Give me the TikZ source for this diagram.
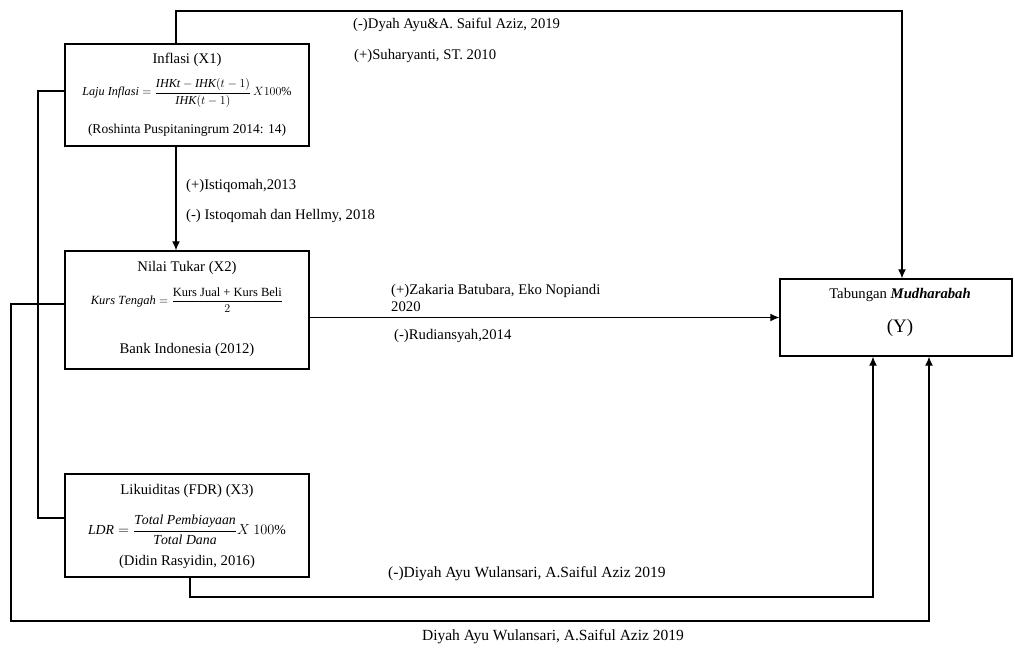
\documentclass[tikz,border=0pt]{standalone}
\usepackage{amsmath}
\usepackage{fontspec}
\setmainfont{Liberation Serif}
\usetikzlibrary{arrows.meta,calc}
\begin{document}
\begin{tikzpicture}[x=1pt,y=-1pt,
  every node/.style={font=\fontsize{14.7}{17}\selectfont, inner sep=0pt},
  box/.style={draw, line width=1.4pt, rectangle},
  line/.style={line width=1.2pt},
  arr/.style={line width=1.2pt, -{Latex[length=9pt,width=8pt]}},
  lab/.style={anchor=west}
]
\useasboundingbox (0,0) rectangle (1015,649);
% boxes
\node[box, minimum width=244pt, minimum height=102pt] (X1) at (187,95) {};
\node[box, minimum width=244pt, minimum height=118pt] (X2) at (187,310) {};
\node[box, minimum width=244pt, minimum height=103pt] (X3) at (187,525.5) {};
\node[box, minimum width=232pt, minimum height=77pt] (Y) at (896,317.5) {};
% box texts
\node (X1a) at (187,60) {Inflasi (X1)};
\node[font=\fontsize{12.2}{13}\selectfont] (X1b) at (187,93) {$\mathit{Laju\ Inflasi} = \dfrac{\mathit{IHKt}-\mathit{IHK}(t-1)}{\mathit{IHK}(t-1)}\,X100\%$};
\node[font=\fontsize{13.5}{16}\selectfont] (X1c) at (187,130) {(Roshinta Puspitaningrum 2014: 14)};
\node (X2a) at (187,268) {Nilai Tukar (X2)};
\node[font=\fontsize{12.5}{13}\selectfont] (X2b) at (187,300) {$\mathit{Kurs\ Tengah} = \dfrac{\text{Kurs Jual + Kurs Beli}}{2}$};
\node (X2c) at (187,350) {Bank Indonesia (2012)};
\node (X3a) at (187,491) {Likuiditas (FDR) (X3)};
\node[font=\fontsize{13.8}{15}\selectfont] (X3b) at (187,530) {$\mathit{LDR} = \dfrac{\mathit{Total\ Pembiayaan}}{\mathit{Total\ Dana}}X\ 100\%$};
\node (X3c) at (187,562) {(Didin Rasyidin, 2016)};
\node (Ya) at (900,295) {Tabungan \textit{\textbf{Mudharabah}}};
\node[font=\fontsize{19}{21}\selectfont] (Yb) at (900,328) {(Y)};
% coordinates
\coordinate (t1) at (176,11);
\coordinate (t2) at (902,11);
\coordinate (b1) at (38,91);
\coordinate (b2) at (38,518);
\coordinate (o1) at (11,304);
\coordinate (o2) at (11,621);
\coordinate (o3) at (929,621);
\coordinate (l1) at (190,597);
\coordinate (l2) at (873,597);
% connectors
\draw[arr] (X1.north -| t1) -- (t1) -- (t2) -- (Y.north -| t2);
\draw[arr] (X1.south -| t1) -- (X2.north -| t1);
\draw[arr] (X2.east |- Y.west) -- (Y.west);
\draw[line] (X1.west |- b1) -- (b1) -- (b2) -- (X3.west |- b2);
\draw[arr] (X2.west |- o1) -- (o1) -- (o2) -- (o3) -- (Y.south -| o3);
\draw[arr] (X3.south -| l1) -- (l1) -- (l2) -- (Y.south -| l2);
% labels
\node[lab] (L1) at (353,25) {(-)Dyah Ayu\&A. Saiful Aziz, 2019};
\node[lab] (L2) at (354,56) {(+)Suharyanti, ST. 2010};
\node[lab] (L3) at (186,186) {(+)Istiqomah,2013};
\node[lab] (L4) at (186,216) {(-) Istoqomah dan Hellmy, 2018};
\node[lab, align=left, font=\fontsize{14.7}{17}\selectfont] (L5) at (391,298) {(+)Zakaria Batubara, Eko Nopiandi\\2020};
\node[lab] (L6) at (394,336) {(-)Rudiansyah,2014};
\node[lab, font=\fontsize{15.5}{17}\selectfont] (L7) at (388,574) {(-)Diyah Ayu Wulansari, A.Saiful Aziz 2019};
\node[font=\fontsize{15.5}{17}\selectfont] (L8) at (553,637) {Diyah Ayu Wulansari, A.Saiful Aziz 2019};
\end{tikzpicture}
\end{document}
